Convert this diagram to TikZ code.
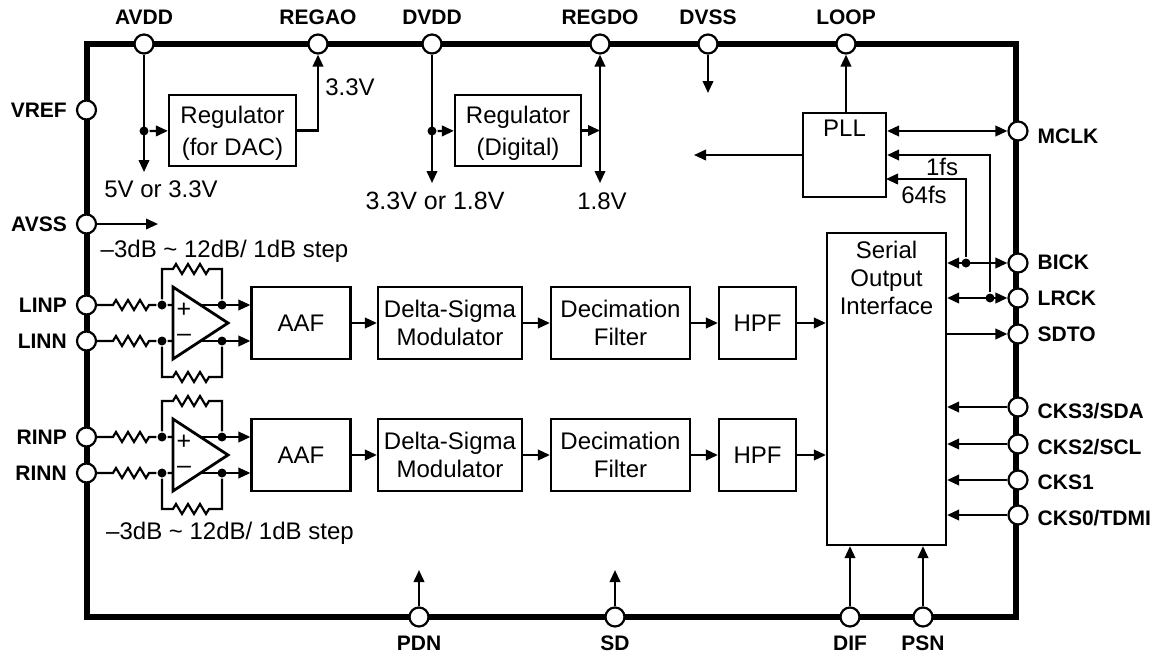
\documentclass[tikz,border=0pt]{standalone}
\usepackage{fontspec}
\setmainfont{Liberation Sans}
\usetikzlibrary{arrows.meta, calc}
\tikzset{
  every picture/.style={x=1pt, y=-1pt, line width=2.2pt, >={Triangle[length=12pt,width=10.5pt]}},
  pin/.style={circle, draw, fill=white, inner sep=0pt, minimum size=19pt},
  dot/.style={circle, fill=black, inner sep=0pt, minimum size=9pt},
  box/.style={draw, inner sep=0pt, align=center, font=\fontsize{24}{28}\selectfont},
  txt/.style={inner sep=0pt, align=center, font=\fontsize{24}{28}\selectfont},
  sign/.style={inner sep=0pt, font=\fontsize{25}{25}\selectfont},
  pinname/.style={inner sep=0pt, font=\fontsize{21}{24}\selectfont\bfseries}
}
\newcommand{\zigzag}{-- ++(3,-5) -- ++(6,10) -- ++(6,-10) -- ++(6,10) -- ++(6,-10) -- ++(6,10) -- ++(3,-5)}
\begin{document}
\begin{tikzpicture}
    \useasboundingbox (0,0) rectangle (1160,657);
    % package outline
    \draw[line width=6pt] (86.5,44) rectangle (1015.5,617);
    % pins
    \foreach \name/\x/\txt in {avdd/144/AVDD, regao/318/REGAO, dvdd/432/DVDD, regdo/600/REGDO, dvss/708/DVSS, loop/846/LOOP}
        \node[pin, label={[pinname, label distance=8pt]above:\txt}] (\name) at (\x,44) {};
    \foreach \name/\y/\txt in {vref/110/VREF, avss/224/AVSS, linp/305/LINP, linn/341/LINN, rinp/437/RINP, rinn/473/RINN}
        \node[pin, label={[pinname, label distance=8pt]left:\txt}] (\name) at (86.5,\y) {};
    \foreach \name/\y/\dy/\txt in {mclk/131/-5/MCLK, bick/263/1/BICK, lrck/298/0/LRCK, sdto/334/0/SDTO, cksa/407/-4/{CKS3/SDA}, cksb/444/-3/{CKS2/SCL}, cksc/480/-2/CKS1, cksd/515/-3/{CKS0/TDMI}}
        \node[pin, label={[pinname, label distance=8pt, yshift=\dy pt]right:\txt}] (\name) at (1018,\y) {};
    \foreach \name/\x/\txt in {pdn/419/PDN, sd/615/SD, dif/850/DIF, psn/923/PSN}
        \node[pin, label={[pinname, label distance=7pt]below:\txt}] (\name) at (\x,617) {};

    % supply section
    \node[box, minimum width=127pt, minimum height=71pt] (regdac) at (232.5,130.5) {};
    \node[box, minimum width=126pt, minimum height=71pt] (regdig) at (518,130.5) {};
    \node[txt, font=\fontsize{24}{32}\selectfont] (t-regdac) at (232.5,133.5) {Regulator\\(for DAC)};
    \node[txt, font=\fontsize{24}{32}\selectfont] (t-regdig) at (518,133.5) {Regulator\\(Digital)};
    \node[dot] (avdd-dot) at (144,131) {};
    \node[dot] (dvdd-dot) at (432,131) {};
    \coordinate (avdd-end) at (144,172);
    \coordinate (dvdd-end) at (432,183);
    \coordinate (regdo-end) at (600,183);
    \coordinate (dvss-end) at (708,93);
    \coordinate (avss-end) at (158,224);
    \draw[->] (avdd) -- (avdd-end);
    \draw[->] (avdd-dot) -- (regdac);
    \draw[->] (regdac) -| (regao);
    \draw[->] (dvdd) -- (dvdd-end);
    \draw[->] (dvdd-dot) -- (regdig);
    \draw[<->] (regdo) -- (regdo-end);
    \draw[->] (regdig.east) -- (regdig.east -| regdo);
    \draw[->] (dvss) -- (dvss-end);
    \draw[->] (avss) -- (avss-end);
    \node[txt] (t-regao) at (350,87) {3.3V};
    \node[txt] (t-avdd) at (161,189) {5V or 3.3V};
    \node[txt, font=\fontsize{25}{28}\selectfont] (t-dvdd) at (435,201) {3.3V or 1.8V};
    \node[txt] (t-regdo) at (602,201) {1.8V};
    \node[txt] (t-gaina) at (224.5,251) {--3dB \textasciitilde{} 12dB/ 1dB step};
    \node[txt] (t-gainb) at (230,533) {--3dB \textasciitilde{} 12dB/ 1dB step};

    % PLL and clocks
    \node[box, minimum width=83pt, minimum height=84pt] (pll) at (844.5,155) {};
    \node[txt, anchor=north] (t-pll) at (844.5,119) {PLL};
    \node[box, minimum width=119pt, minimum height=312pt] (serial) at (886.5,389) {};
    \node[txt, anchor=north] (t-serial) at (886.5,240) {Serial\\Output\\Interface};
    \node[dot] (bick-dot) at (966,263) {};
    \node[dot] (lrck-dot) at (990,298) {};
    \coordinate (pll-out) at (694,155);
    \draw[->] (pll.north -| loop) -- (loop);
    \draw[->] (pll.west |- pll-out) -- (pll-out);
    \draw[<->] (pll.east |- mclk) -- (mclk);
    \draw[->] (lrck-dot) |- (pll.east |- pll-out);
    \draw[->] (bick-dot) |- (886,179);
    \draw[<->] (serial.east |- bick) -- (bick);
    \draw[<->] (serial.east |- lrck) -- (lrck);
    \draw[->] (serial.east |- sdto) -- (sdto);
    \foreach \name in {cksa, cksb, cksc, cksd}
        \draw[->] (\name) -- (serial.east |- \name);
    \foreach \name in {dif, psn}
        \draw[->] (\name) -- (serial.south -| \name);
    \foreach \name in {pdn, sd}
        \draw[->] (\name) -- ($(\name)+(0,-47)$);
    \node[txt] (t-fsa) at (942,167) {1fs};
    \node[txt] (t-fsb) at (924,195) {64fs};

    % two signal paths
    \foreach \ch/\yy in {l/323, r/455} {
        \node[box, minimum width=99pt, minimum height=72pt] (\ch aaf) at (301,\yy) {AAF};
        \node[box, minimum width=144pt, minimum height=72pt] (\ch dsm) at (450,\yy) {Delta-Sigma\\Modulator};
        \node[box, minimum width=139pt, minimum height=72pt] (\ch dec) at (620.5,\yy) {Decimation\\Filter};
        \node[box, minimum width=77pt, minimum height=72pt] (\ch hpf) at (757.5,\yy) {HPF};
        \draw[->] (\ch aaf) -- (\ch dsm);
        \draw[->] (\ch dsm) -- (\ch dec);
        \draw[->] (\ch dec) -- (\ch hpf);
        \draw[->] (\ch hpf) -- (\ch hpf -| serial.west);
        % amplifier
        \draw[line width=2.8pt, line join=miter] (173,\yy-36) -- (228,\yy) -- (173,\yy+36) -- cycle;
        \node[sign] (\ch plus) at (184,\yy-13) {+};
        \node[sign] (\ch minus) at (184,\yy+15) {--};
        \node[dot] (\ch p-in) at (162,\yy-18) {};
        \node[dot] (\ch n-in) at (162,\yy+18) {};
        \node[dot] (\ch p-out) at (222,\yy-18) {};
        \node[dot] (\ch n-out) at (222,\yy+18) {};
        \draw (\ch inp) -- (113,\yy-18) \zigzag -- (\ch p-in) -- (173,\yy-18);
        \draw (\ch inn) -- (113,\yy+18) \zigzag -- (\ch n-in) -- (173,\yy+18);
        \draw (\ch p-in) |- (173,\yy-54) \zigzag -| (\ch p-out);
        \draw (\ch n-in) |- (173,\yy+54) \zigzag -| (\ch n-out);
        \draw[->] (201,\yy-18) -- (\ch aaf.west |- \ch p-out);
        \draw[->] (201,\yy+18) -- (\ch aaf.west |- \ch n-out);
    }
\end{tikzpicture}
\end{document}
